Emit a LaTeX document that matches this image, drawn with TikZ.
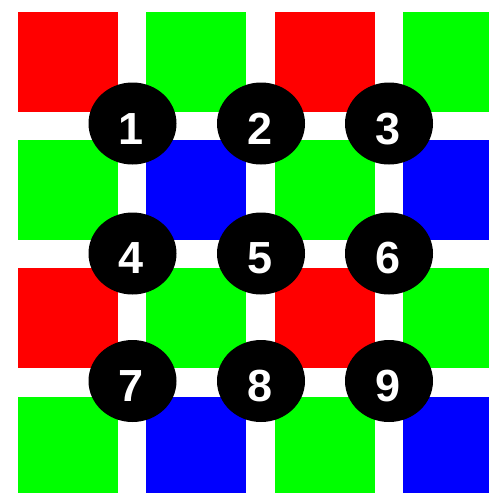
\documentclass[tikz,border=0pt]{standalone}
\usepackage{fontspec}
\setmainfont{Liberation Sans}
\usetikzlibrary{shapes.geometric}
\definecolor{pr}{RGB}{255,0,0}
\definecolor{pg}{RGB}{0,255,0}
\definecolor{pb}{RGB}{0,0,255}
\begin{document}
\begin{tikzpicture}[x=1pt,y=-1pt,
  sq/.style={minimum width=100pt,minimum height=100pt,inner sep=0pt,anchor=north west,draw=none},
  dot/.style={ellipse,fill=black,minimum width=88pt,minimum height=82pt,inner sep=0pt},
  num/.style={text=white,font=\fontsize{45}{45}\selectfont\bfseries,inner sep=0pt}]
\useasboundingbox[fill=white] (0,0) rectangle (489,493);
\begin{scope}
\clip (0,0) rectangle (489,493);
% row 1
\node[sq,fill=pr] (s11) at (18,12) {};
\node[sq,fill=pg] (s12) at (146,12) {};
\node[sq,fill=pr] (s13) at (275,12) {};
\node[sq,fill=pg] (s14) at (403,12) {};
% row 2
\node[sq,fill=pg] (s21) at (18,140) {};
\node[sq,fill=pb] (s22) at (146,140) {};
\node[sq,fill=pg] (s23) at (275,140) {};
\node[sq,fill=pb] (s24) at (403,140) {};
% row 3
\node[sq,fill=pr] (s31) at (18,268) {};
\node[sq,fill=pg] (s32) at (146,268) {};
\node[sq,fill=pr] (s33) at (275,268) {};
\node[sq,fill=pg] (s34) at (403,268) {};
% row 4
\node[sq,fill=pg] (s41) at (18,397) {};
\node[sq,fill=pb] (s42) at (146,397) {};
\node[sq,fill=pg] (s43) at (275,397) {};
\node[sq,fill=pb] (s44) at (403,397) {};
\end{scope}
% dots
\node[dot] (d1) at (132.5,123.5) {};
\node[dot] (d2) at (261,123.5) {};
\node[dot] (d3) at (389,123.5) {};
\node[dot] (d4) at (132.5,253.5) {};
\node[dot] (d5) at (261,253.5) {};
\node[dot] (d6) at (389,253.5) {};
\node[dot] (d7) at (132.5,381) {};
\node[dot] (d8) at (261,381) {};
\node[dot] (d9) at (389,381) {};
% numbers
\node[num] (n1) at (131.5,129) {1};
\node[num] (n2) at (260,129) {2};
\node[num] (n3) at (388,129) {3};
\node[num] (n4) at (131.5,258.5) {4};
\node[num] (n5) at (260,258.5) {5};
\node[num] (n6) at (388,258.5) {6};
\node[num] (n7) at (131.5,386) {7};
\node[num] (n8) at (260,386) {8};
\node[num] (n9) at (388,386) {9};
\end{tikzpicture}
\end{document}
